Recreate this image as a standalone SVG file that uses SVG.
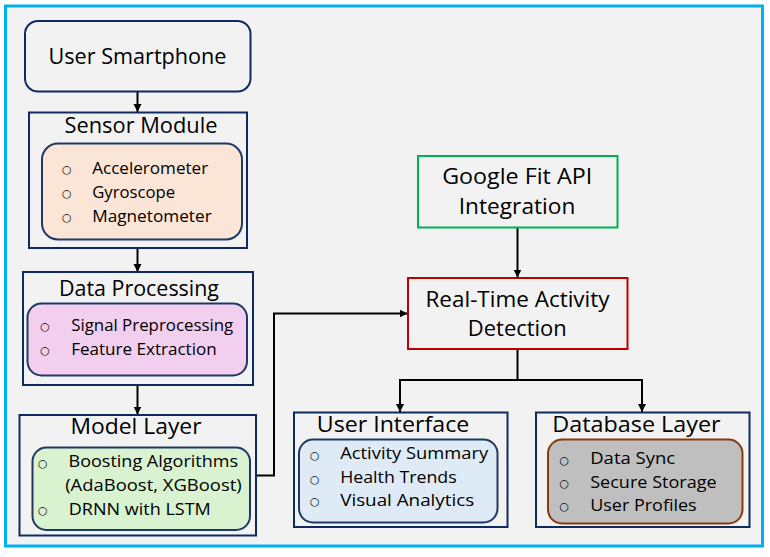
<svg xmlns="http://www.w3.org/2000/svg" width="770" height="557" viewBox="0 0 770 557">
<style>
.t{font-family:"Open Sans","Liberation Sans",sans-serif;fill:#000}
.title{font-size:21.5px}
.item{font-size:17px}
.bul{font-family:"DejaVu Sans",sans-serif;font-size:11px;text-anchor:middle;fill:#000}
.box{fill:#F2F2F2;stroke:#0F2A5E;stroke-width:2}
.inner{stroke:#1F3864;stroke-width:2}
.conn{fill:none;stroke:#000;stroke-width:2}
</style>
<defs>
<marker id="arr" markerWidth="10" markerHeight="10" refX="8" refY="4" orient="auto" markerUnits="userSpaceOnUse">
<path d="M0,0 L8,4 L0,8 Z" fill="#000"/>
</marker>
</defs>
<rect x="5.5" y="6" width="757" height="540" fill="#F2F2F2" stroke="#00B0F0" stroke-width="3"/>

<g id="connectors">
<path class="conn" d="M137.5,92 V112" marker-end="url(#arr)"/>
<path class="conn" d="M137.5,248 V272" marker-end="url(#arr)"/>
<path class="conn" d="M137.5,385 V414.5" marker-end="url(#arr)"/>
<path class="conn" d="M256,475.5 H274 V313.5 H407.5" marker-end="url(#arr)"/>
<path class="conn" d="M517.5,227.5 V277.5" marker-end="url(#arr)"/>
<path class="conn" d="M517.5,349 V380"/>
<path class="conn" d="M400,380 H642"/>
<path class="conn" d="M400,379 V412" marker-end="url(#arr)"/>
<path class="conn" d="M642,379 V412" marker-end="url(#arr)"/>
</g>

<g id="user-smartphone">
<rect class="box" x="25" y="21" width="225.5" height="70.5" rx="13"/>
<text class="t title" x="48.5" y="64" textLength="178" lengthAdjust="spacingAndGlyphs">User Smartphone</text>
</g>

<g id="sensor-module">
<rect class="box" x="29" y="112.5" width="218" height="135.5"/>
<text class="t title" x="64.5" y="133" textLength="153" lengthAdjust="spacingAndGlyphs">Sensor Module</text>
<rect class="inner" x="42" y="143.5" width="200" height="96" rx="16" fill="#FBE5D6" stroke="#1E2D40"/>
<text class="bul" x="66.7" y="173.3">○</text>
<text class="bul" x="66.7" y="197.3">○</text>
<text class="bul" x="66.7" y="221.3">○</text>
<text class="t item" x="92.2" y="174" textLength="116" lengthAdjust="spacingAndGlyphs">Accelerometer</text>
<text class="t item" x="92.2" y="198" textLength="83" lengthAdjust="spacingAndGlyphs">Gyroscope</text>
<text class="t item" x="92.2" y="222" textLength="119.5" lengthAdjust="spacingAndGlyphs">Magnetometer</text>
</g>

<g id="data-processing">
<rect class="box" x="23" y="272" width="230" height="113"/>
<text class="t title" x="59" y="296" textLength="160" lengthAdjust="spacingAndGlyphs">Data Processing</text>
<rect class="inner" x="27.5" y="303.5" width="219.5" height="72" rx="14" fill="#F2CEEF"/>
<text class="bul" x="45" y="330.3">○</text>
<text class="bul" x="45" y="354.3">○</text>
<text class="t item" x="71.2" y="331" textLength="162" lengthAdjust="spacingAndGlyphs">Signal Preprocessing</text>
<text class="t item" x="71.2" y="355" textLength="145.5" lengthAdjust="spacingAndGlyphs">Feature Extraction</text>
</g>

<g id="model-layer">
<rect class="box" x="19.5" y="415" width="236.5" height="120.5"/>
<text class="t title" x="70.5" y="434.3" textLength="131" lengthAdjust="spacingAndGlyphs">Model Layer</text>
<rect class="inner" x="32.5" y="447.5" width="217.5" height="82.5" rx="14" fill="#D9F2D0"/>
<text class="bul" x="42.7" y="467.3">○</text>
<text class="bul" x="42.7" y="514.3">○</text>
<text class="t item" x="68.5" y="467.3" textLength="169.5" lengthAdjust="spacingAndGlyphs">Boosting Algorithms</text>
<text class="t item" x="65.2" y="490.7" textLength="176.5" lengthAdjust="spacingAndGlyphs">(AdaBoost, XGBoost)</text>
<text class="t item" x="68.8" y="515" textLength="142" lengthAdjust="spacingAndGlyphs">DRNN with LSTM</text>
</g>

<g id="google-fit">
<rect x="418" y="156" width="199.5" height="71.5" fill="#F2F2F2" stroke="#00B050" stroke-width="2"/>
<text class="t title" x="442.2" y="184" textLength="150" lengthAdjust="spacingAndGlyphs">Google Fit API</text>
<text class="t title" x="458.8" y="214" textLength="116.5" lengthAdjust="spacingAndGlyphs">Integration</text>
</g>

<g id="real-time-detection">
<rect x="408" y="278" width="219.5" height="71" fill="#F2F2F2" stroke="#C00000" stroke-width="2"/>
<text class="t title" x="425.5" y="307" textLength="184" lengthAdjust="spacingAndGlyphs">Real-Time Activity</text>
<text class="t title" x="467.8" y="336" textLength="99" lengthAdjust="spacingAndGlyphs">Detection</text>
</g>

<g id="user-interface">
<rect class="box" x="294" y="412.5" width="213.5" height="114.5"/>
<text class="t title" x="316.8" y="431.7" textLength="152.5" lengthAdjust="spacingAndGlyphs">User Interface</text>
<rect class="inner" x="299" y="439.5" width="198.5" height="83" rx="14" fill="#DEEAF6"/>
<text class="bul" x="314.7" y="458.6">○</text>
<text class="bul" x="314.7" y="482.6">○</text>
<text class="bul" x="314.7" y="505.3">○</text>
<text class="t item" x="340.2" y="459.3" textLength="148" lengthAdjust="spacingAndGlyphs">Activity Summary</text>
<text class="t item" x="340.2" y="483.3" textLength="116.5" lengthAdjust="spacingAndGlyphs">Health Trends</text>
<text class="t item" x="340.2" y="505.7" textLength="134" lengthAdjust="spacingAndGlyphs">Visual Analytics</text>
</g>

<g id="database-layer">
<rect class="box" x="536" y="412.5" width="213.5" height="114.5"/>
<text class="t title" x="552.2" y="431.7" textLength="168.5" lengthAdjust="spacingAndGlyphs">Database Layer</text>
<rect x="548" y="439.5" width="194.5" height="84" rx="14" fill="#BFBFBF" stroke="#843C0C" stroke-width="2"/>
<text class="bul" x="564.3" y="463.6">○</text>
<text class="bul" x="564.3" y="487">○</text>
<text class="bul" x="564.3" y="510">○</text>
<text class="t item" x="590.2" y="464.3" textLength="85" lengthAdjust="spacingAndGlyphs">Data Sync</text>
<text class="t item" x="590.2" y="487.7" textLength="126.5" lengthAdjust="spacingAndGlyphs">Secure Storage</text>
<text class="t item" x="590.2" y="510.7" textLength="106.5" lengthAdjust="spacingAndGlyphs">User Profiles</text>
</g>
</svg>
